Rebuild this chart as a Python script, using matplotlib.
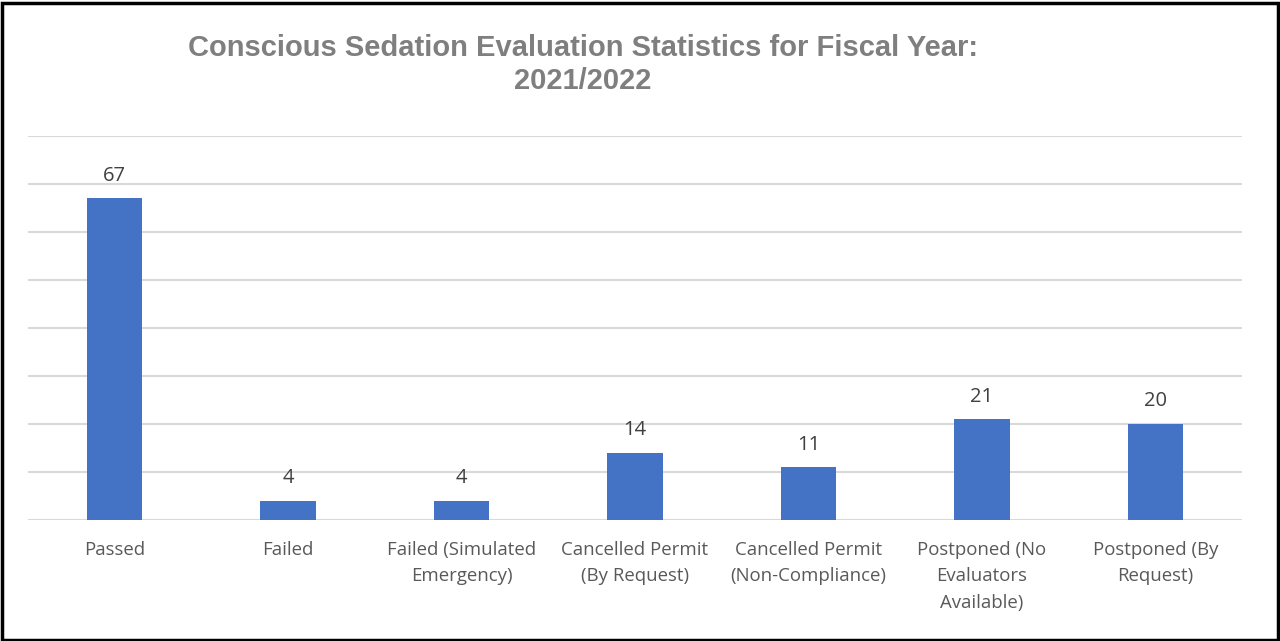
import numpy as np
import matplotlib.pyplot as plt
from matplotlib.patches import Rectangle

# values
categories = ["Passed", "Failed", "Failed (Simulated\nEmergency)",
              "Cancelled Permit\n(By Request)", "Cancelled Permit\n(Non-Compliance)",
              "Postponed (No\nEvaluators\nAvailable)", "Postponed (By\nRequest)"]
counts = [67, 4, 4, 14, 11, 21, 20]
yticks = [0, 10, 20, 30, 40, 50, 60, 70, 80]

bar_color = "#4472c4"
grid_color = "#d9d9d9"
label_font = ["Open Sans", "DejaVu Sans"]

fig = plt.figure(figsize=(12.8, 6.41), dpi=100)
ax = fig.add_axes([28/1280, 121/641, (1242-28)/1280, (520-136)/641])

x = np.arange(len(categories))
ax.bar(x, counts, width=0.32, color=bar_color, zorder=3)

for xi, v in zip(x, counts):
    ax.annotate(str(v), (xi, v), xytext=(0, 9), textcoords="offset points",
                ha="center", va="bottom", fontsize=14.5, color="#404040",
                family=label_font)

ax.set_xlim(-0.5, len(categories) - 0.5)
ax.set_ylim(0, 80)
ax.set_yticks(yticks)
ax.yaxis.grid(True, color=grid_color, linewidth=1.5, zorder=0)
ax.tick_params(axis="y", left=False, labelleft=False)
ax.tick_params(axis="x", length=0, pad=15)
ax.set_xticks(x)
ax.set_xticklabels(categories, fontsize=13.4, color="#595959",
                   family=label_font, linespacing=1.6)
for s in ax.spines.values():
    s.set_visible(False)

fig.text(583/1280, 1 - 48/641, "Conscious Sedation Evaluation Statistics for Fiscal Year:",
         ha="center", va="center", fontsize=21, fontweight="bold",
         color="#7f7f7f", family="Liberation Sans")
fig.text(583/1280, 1 - 81/641, "2021/2022",
         ha="center", va="center", fontsize=21, fontweight="bold",
         color="#7f7f7f", family="Liberation Sans")

# black frame around the whole picture
fig.patches.append(Rectangle((1.5/1280, 1.5/641), 1276/1280, 637/641,
                             transform=fig.transFigure, fill=False,
                             edgecolor="black", linewidth=2.5))

fig.savefig("out.png", dpi=100)
